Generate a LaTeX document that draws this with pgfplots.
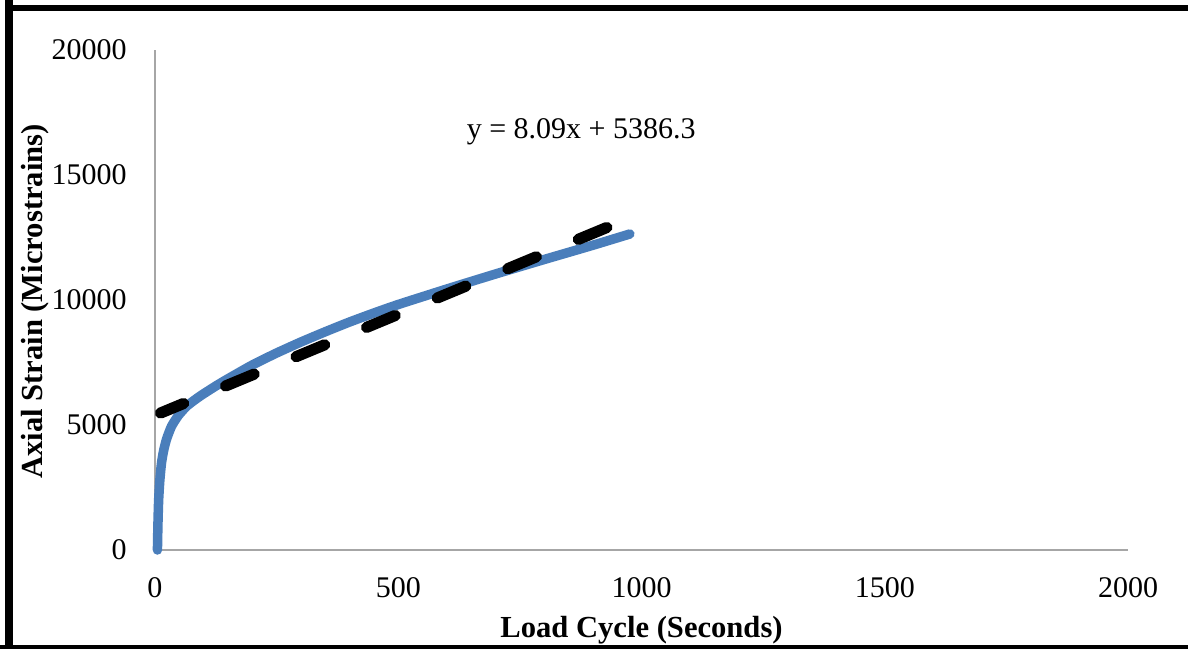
\documentclass[border=0pt]{standalone}
\usepackage{fontspec}
\setmainfont{Liberation Serif}
\usepackage{pgfplots}
\pgfplotsset{compat=1.18}
\definecolor{blueC}{HTML}{4A7EBB}
\begin{document}
\begin{tikzpicture}[x=1pt,y=1pt]
\useasboundingbox (0,0) rectangle (594,324);
\begin{axis}[
  at={(77.5pt,49pt)}, anchor=south west,
  scale only axis, width=486.5pt, height=250pt,
  xmin=0, xmax=2000, ymin=0, ymax=20000,
  axis lines*=left,
  axis line style={draw=gray!70, line width=0.8pt},
  xtick={0,500,1000,1500,2000},
  ytick={0,5000,10000,15000,20000},
  major tick length=0pt,
  scaled ticks=false,
  /pgf/number format/1000 sep={},
  /pgf/number format/assume math mode=true,
  tick label style={font=\fontsize{15}{18}\selectfont},
  yticklabel style={anchor=east, inner sep=0pt, xshift=-14pt},
  xticklabel style={anchor=north, inner sep=0pt, yshift=-13.5pt},
  xlabel={Load Cycle (Seconds)},
  ylabel={Axial Strain (Microstrains)},
  label style={font=\fontsize{15.3}{18}\selectfont\bfseries},
  xlabel style={at={(axis description cs:0.5,-0.16)}, anchor=center},
  ylabel style={at={(axis description cs:-0.1233,0.497)}, anchor=center, rotate=0},
  clip=false,
]
\addplot[color=blueC, line width=4.75pt, line cap=round, line join=round, smooth, tension=0.35] coordinates {
(5,0) (6,1000) (7.5,2000) (10,2800) (13.5,3500) (18,4000) (24,4450) (34,4950)
(48,5380) (65,5750) (85,6050) (100,6250) (125,6560) (150,6850) (200,7400)
(250,7880) (300,8320) (350,8730) (400,9120) (450,9480) (500,9820) (600,10440)
(700,11040) (800,11620) (900,12190) (976,12640)
};
\addplot[black, line width=5.6pt, line cap=round, dash pattern=on 15.5pt off 22.7pt, dash phase=2.98pt] coordinates {
(11.3,5477.7) (976,13282.1)
};
\node[font=\fontsize{15}{18}\selectfont] at (axis cs:876,16720) {y = 8.09x + 5386.3};
\end{axis}
\draw[line width=3.3pt] (4.4,320) -- (600,320);
\draw[line width=3.9pt] (4.4,330) -- (4.4,-5);
\draw[line width=2.7pt] (0,0) -- (600,0);
\end{tikzpicture}
\end{document}
